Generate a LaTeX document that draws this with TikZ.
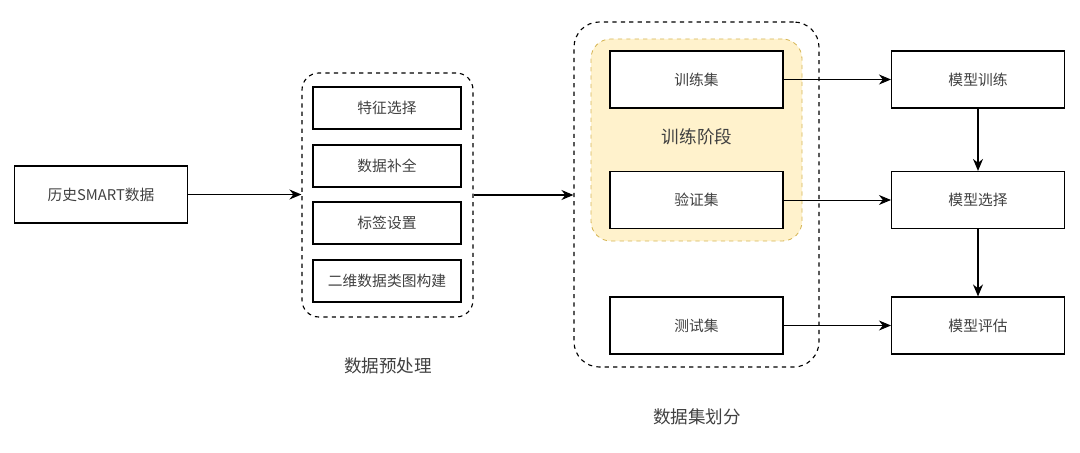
\documentclass[tikz,border=0pt]{standalone}
\usepackage{fontspec}
\setmainfont{Noto Sans CJK SC}
\usepackage{tikz}
\usetikzlibrary{positioning,arrows.meta,calc,fit,backgrounds}
\definecolor{phasefill}{HTML}{FFF2CC}
\definecolor{phasedraw}{HTML}{D6B656}

\begin{document}
\begin{tikzpicture}[
    font=\fontsize{10.5}{12}\selectfont,
    blk/.style={rectangle, draw, line width=0.8pt, align=center,
      minimum width=4.325cm, minimum height=1.425cm, inner sep=1mm, text=black!75},
    sub/.style={blk, minimum width=3.7cm, minimum height=1.05cm},
    grp/.style={rectangle, draw, dashed, line width=0.8pt, rounded corners=12pt},
    phase/.style={rectangle, draw=phasedraw, dashed, line width=0.6pt,
      fill=phasefill, rounded corners=14pt},
    lbl/.style={text=black!75, font=\fontsize{12.5}{14}\selectfont},
    arr/.style={-{Stealth[length=3mm, width=2.5mm]}, line width=1pt},
    tarr/.style={-{Stealth[length=3mm, width=2.5mm]}, line width=0.6pt}
  ]
  \useasboundingbox (0,0) rectangle (27,-11.325);

  % input
  \node[blk] (hist) at (2.525,-4.8625) {历史SMART数据};

  % preprocessing
  \node[sub] (feat)  at (9.675,-2.7)   {特征选择};
  \node[sub] (fill)  at (9.675,-4.15)  {数据补全};
  \node[sub] (label) at (9.675,-5.575) {标签设置};
  \node[sub] (graph) at (9.675,-7.025) {二维数据类图构建};
  \node[grp, minimum width=4.275cm, minimum height=6.1cm] (prep) at (9.6875,-4.875) {};
  \node[lbl] (preplbl) at (9.7,-9.15) {数据预处理};

  % dataset split
  \node[grp, rounded corners=18pt, minimum width=6.125cm, minimum height=8.625cm] (split) at (17.4125,-4.8625) {};
  \begin{scope}[on background layer]
    \node[phase, minimum width=5.275cm, minimum height=5.05cm] (train) at (17.4125,-3.5) {};
  \end{scope}
  \node[blk, fill=white] (trainset) at (17.4125,-1.9875) {训练集};
  \node[blk, fill=white] (valset)   at (17.4125,-5.0)    {验证集};
  \node[blk] (testset)  at (17.4125,-8.1375) {测试集};
  \node[lbl] (trainlbl) at (17.425,-3.425)  {训练阶段};
  \node[lbl] (splitlbl) at (17.425,-10.425) {数据集划分};

  % models
  \node[blk] (mtrain) at (24.45,-1.9875) {模型训练};
  \node[blk] (msel)   at (24.45,-5.0)    {模型选择};
  \node[blk] (meval)  at (24.45,-8.1375) {模型评估};

  \draw[arr] (hist) -- (prep.west |- hist);
  \draw[arr] (prep.east) -- (split.west |- prep.east);
  \draw[tarr] (trainset) -- (mtrain);
  \draw[tarr] (valset) -- (msel);
  \draw[tarr] (testset) -- (meval);
  \draw[arr] (mtrain) -- (msel);
  \draw[arr] (msel) -- (meval);
\end{tikzpicture}
\end{document}
